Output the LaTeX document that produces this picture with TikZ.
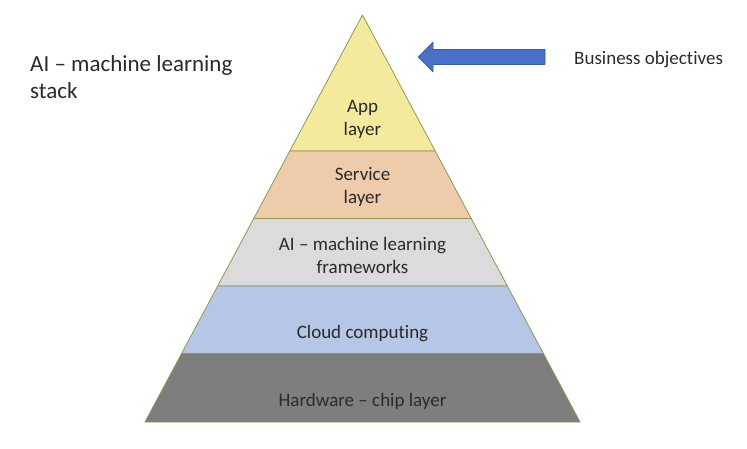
\documentclass[tikz,border=0pt]{standalone}
\usepackage{fontspec}
\setmainfont{Carlito}[Ligatures=NoCommon]
\usetikzlibrary{calc}
\definecolor{edge}{HTML}{8A9A55}
\definecolor{appcol}{HTML}{F4EA9E}
\definecolor{servcol}{HTML}{EECBAA}
\definecolor{framecol}{HTML}{DBDBDB}
\definecolor{cloudcol}{HTML}{B5C6E6}
\definecolor{chipcol}{HTML}{7E7E7E}
\definecolor{arrowcol}{HTML}{4A6FC6}
\definecolor{arrowedge}{HTML}{3A5AA0}
\definecolor{ink}{HTML}{2A2A2A}
\begin{document}
\begin{tikzpicture}[x=1pt,y=-1pt,
		layer/.style={draw=edge,line width=0.8pt,line join=round},
		lbl/.style={align=center,inner sep=0pt,text=ink,font=\fontsize{19}{22.5}\selectfont}]
	\useasboundingbox (0,0) rectangle (747,449);
	\coordinate (top) at (362.5,15);
	\coordinate (bl) at (145,422);
	\coordinate (br) at (580,422);
	% layer borders on both sides
	\foreach \t/\n in {0.334/1,0.5/2,0.666/3,0.832/4}{
		\coordinate (l\n) at ($(top)!\t!(bl)$);
		\coordinate (r\n) at ($(top)!\t!(br)$);
	}
	\filldraw[layer,fill=appcol] (top) -- (r1) -- (l1) -- cycle;
	\filldraw[layer,fill=servcol] (l1) -- (r1) -- (r2) -- (l2) -- cycle;
	\filldraw[layer,fill=framecol] (l2) -- (r2) -- (r3) -- (l3) -- cycle;
	\filldraw[layer,fill=cloudcol] (l3) -- (r3) -- (r4) -- (l4) -- cycle;
	\filldraw[layer,fill=chipcol] (l4) -- (r4) -- (br) -- (bl) -- cycle;
	% labels
	\node[lbl] (app) at (362.5,119.5) {App\\layer};
	\node[lbl] (service) at (362.5,187) {Service\\layer};
	\node[lbl] (frameworks) at (362.5,255.5) {AI – machine learning\\frameworks};
	\node[lbl] (cloud) at (362.5,334) {Cloud computing};
	\node[lbl] (chip) at (362.5,401) {Hardware – chip layer};
	\node[inner sep=0pt,anchor=north west,align=left,text=ink,
		font=\fontsize{23}{27.5}\selectfont] (title) at (30,55) {AI – machine learning\\stack};
	\node[inner sep=0pt,anchor=base west,text=ink,
		font=\fontsize{19}{22.5}\selectfont] (goal) at (574,64.3) {Business objectives};
	% block arrow
	\coordinate (tip) at (418,57);
	\filldraw[fill=arrowcol,draw=arrowedge,line width=0.6pt,line join=round]
		(tip) -- (433,42) -- (433,49.5) -- (545,49.5) -- (545,64.5)
		-- (433,64.5) -- (433,72) -- cycle;
\end{tikzpicture}
\end{document}
